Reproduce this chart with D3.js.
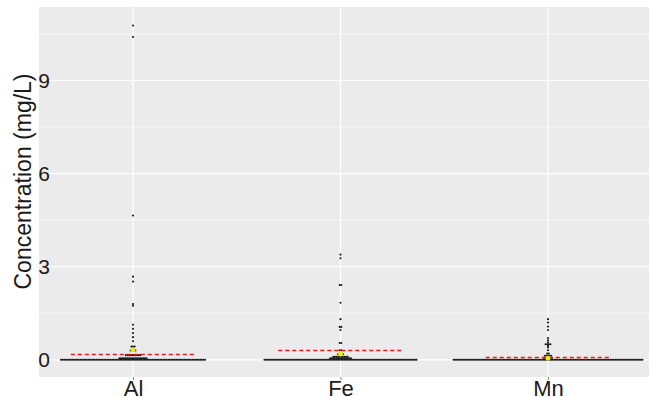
<!DOCTYPE html>
<html>
<head>
<meta charset="utf-8">
<script src="https://cdnjs.cloudflare.com/ajax/libs/d3/7.8.5/d3.min.js"></script>
<style>
  body { margin: 0; background: #fff; }
  text { font-family: "Liberation Sans", Arial, sans-serif; }
</style>
</head>
<body>
<div id="chart"></div>
<script>
// categories and tick labels
var categories = ["Al", "Fe", "Mn"];
var yTicks = [0, 3, 6, 9];
var yMinorTicks = [1.5, 4.5, 7.5, 10.5];

// dot bins: value (mg/L) and number of dots stacked in that row
var alValues = [0, 0.05, 0.15, 0.3, 0.43, 0.6, 0.73, 0.86, 1.0, 1.13, 1.74, 1.8, 2.52, 2.68, 4.65, 10.4, 10.77];
var alCounts = [91, 18, 10, 4, 3, 1, 1, 1, 1, 1, 1, 1, 1, 1, 1, 1, 1];
var feValues = [0, 0.05, 0.1, 0.18, 0.31, 0.54, 0.96, 1.06, 1.31, 1.84, 2.41, 3.27, 3.39];
var feCounts = [96, 14, 10, 4, 2, 2, 1, 2, 1, 1, 2, 1, 1];
var mnValues = [0, 0.06, 0.13, 0.2, 0.31, 0.4, 0.45, 0.5, 0.56, 0.63, 0.7, 0.96, 1.07, 1.2, 1.31];
var mnCounts = [119, 6, 5, 2, 1, 1, 1, 4, 1, 1, 1, 1, 1, 1, 1];

// yellow point (mean) and red dashed guideline per element
var meanValues = [0.31, 0.18, 0.05];
var guideValues = [0.2, 0.3, 0.1];

var binValues = [alValues, feValues, mnValues];
var binCounts = [alCounts, feCounts, mnCounts];

var width = 649, height = 397;
var panel = { left: 39, top: 7, right: 649, bottom: 377 };

var svg = d3.select("#chart").append("svg")
  .attr("width", width)
  .attr("height", height);

var x = d3.scalePoint()
  .domain(categories)
  .range([panel.left + 94, panel.left + 509]);

var y = d3.scaleLinear()
  .domain([0, 9])
  .range([359.8, 80.5]);

// snap a value to a pixel centre so thin lines stay crisp
function py(v) { return Math.round(y(v)) + 0.5; }

// panel background
svg.append("rect")
  .attr("x", panel.left)
  .attr("y", panel.top)
  .attr("width", panel.right - panel.left)
  .attr("height", panel.bottom - panel.top)
  .attr("fill", "#ebebeb");

// grid
svg.selectAll(".minor")
  .data(yMinorTicks).enter()
  .append("line")
  .attr("x1", panel.left).attr("x2", panel.right)
  .attr("y1", function (d) { return y(d); })
  .attr("y2", function (d) { return y(d); })
  .attr("stroke", "#fff").attr("stroke-width", 0.6);

svg.selectAll(".major")
  .data(yTicks).enter()
  .append("line")
  .attr("x1", panel.left).attr("x2", panel.right)
  .attr("y1", function (d) { return y(d); })
  .attr("y2", function (d) { return y(d); })
  .attr("stroke", "#fff").attr("stroke-width", 1.2);

svg.selectAll(".vgrid")
  .data(categories).enter()
  .append("line")
  .attr("x1", function (d) { return x(d); })
  .attr("x2", function (d) { return x(d); })
  .attr("y1", panel.top).attr("y2", panel.bottom)
  .attr("stroke", "#fff").attr("stroke-width", 1.2);

// dot plot, rows stacked sideways around the category centre
var dotStep = 1.6;
var dots = [];
categories.forEach(function (c, ci) {
  binValues[ci].forEach(function (v, bi) {
    var n = binCounts[ci][bi];
    for (var k = 0; k < n; k++) {
      dots.push({ cat: c, value: v, offset: (k - (n - 1) / 2) * dotStep });
    }
  });
});

svg.append("g").selectAll("circle")
  .data(dots).enter()
  .append("circle")
  .attr("cx", function (d) { return x(d.cat) + d.offset; })
  .attr("cy", function (d) { return y(d.value); })
  .attr("r", 1.05)
  .attr("fill", "#1a1a1a");

// guideline (red dashed)
var halfGuide = x.step() * 0.3;
svg.selectAll(".guide")
  .data(categories).enter()
  .append("line")
  .attr("x1", function (d) { return x(d) - halfGuide; })
  .attr("x2", function (d) { return x(d) + halfGuide; })
  .attr("y1", function (d, i) { return py(guideValues[i]); })
  .attr("y2", function (d, i) { return py(guideValues[i]); })
  .attr("stroke", "#ff1010")
  .attr("stroke-width", 1.3)
  .attr("stroke-dasharray", "4,3");

// mean points
svg.selectAll(".mean")
  .data(categories).enter()
  .append("circle")
  .attr("cx", function (d) { return x(d); })
  .attr("cy", function (d, i) { return y(meanValues[i]); })
  .attr("r", 2.4)
  .attr("fill", "#f2ea00");

// axes
var yAxis = svg.append("g")
  .attr("transform", "translate(" + panel.left + ",0)")
  .call(d3.axisLeft(y).tickValues(yTicks).tickSize(0).tickPadding(-11).tickFormat(d3.format("d")));
yAxis.select(".domain").remove();
yAxis.selectAll("text").attr("font-size", 21).attr("fill", "#1a1a1a");

var xAxis = svg.append("g")
  .attr("transform", "translate(0," + panel.bottom + ")")
  .call(d3.axisBottom(x).tickSize(3).tickPadding(0));
xAxis.select(".domain").remove();
xAxis.selectAll("line").attr("stroke", "#888");
xAxis.selectAll("text").attr("font-size", 22).attr("fill", "#1a1a1a").attr("dy", "0.71em");

// axis title
svg.append("text")
  .attr("transform", "translate(31,181.5) rotate(-90)")
  .attr("text-anchor", "middle")
  .attr("font-size", 23)
  .attr("fill", "#1a1a1a")
  .text("Concentration (mg/L)");
</script>
</body>
</html>
